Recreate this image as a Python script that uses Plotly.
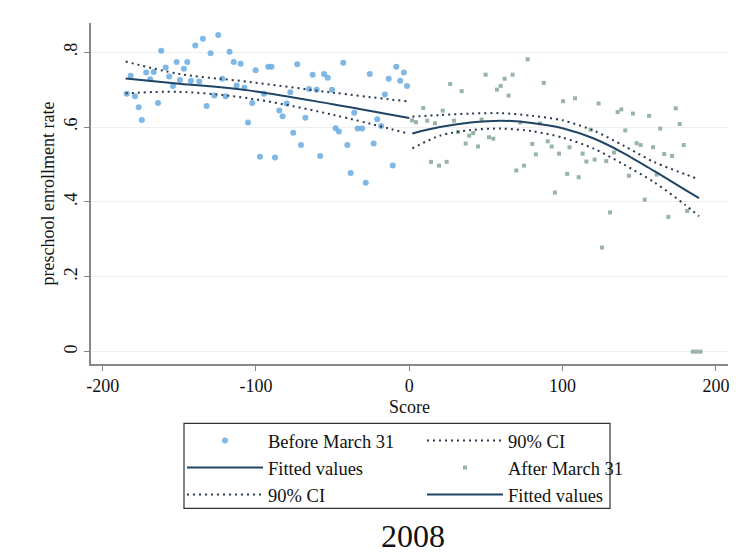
import plotly.graph_objects as go

# ---------------- data ----------------
before_x = [-184.3, -178.9, -181.7, -176.5, -174.4, -171.6, -169.0, -166.7, -163.9, -161.8,
            -158.9, -156.6, -154.1, -151.7, -149.6, -147.0, -144.8, -142.4, -139.6, -137.0,
            -134.6, -132.2, -129.6, -127.2, -124.6, -122.0, -119.8, -117.2, -114.5, -112.6,
            -110.0, -107.5, -105.2, -102.4, -100.2, -97.4, -94.8, -92.0, -89.8, -87.6,
            -84.8, -82.6, -80.0, -77.6, -75.7, -73.1, -70.6, -67.8, -65.4, -63.0,
            -60.4, -58.1, -55.6, -53.2, -50.4, -48.0, -45.9, -43.1, -40.4, -38.2,
            -35.9, -33.7, -30.7, -28.4, -25.8, -23.2, -20.9, -18.3, -15.9, -13.4,
            -10.8, -8.5, -5.9, -3.5, -1.5]
before_y = [0.689, 0.682, 0.737, 0.653, 0.619, 0.746, 0.728, 0.747, 0.664, 0.804,
            0.759, 0.735, 0.710, 0.774, 0.726, 0.756, 0.774, 0.724, 0.818, 0.722,
            0.836, 0.656, 0.797, 0.684, 0.846, 0.729, 0.682, 0.801, 0.774, 0.711,
            0.769, 0.705, 0.612, 0.664, 0.752, 0.521, 0.689, 0.761, 0.761, 0.519,
            0.644, 0.629, 0.663, 0.693, 0.585, 0.768, 0.552, 0.625, 0.702, 0.740,
            0.700, 0.523, 0.742, 0.732, 0.700, 0.597, 0.588, 0.772, 0.552, 0.477,
            0.638, 0.596, 0.596, 0.451, 0.742, 0.556, 0.621, 0.603, 0.687, 0.729,
            0.497, 0.761, 0.724, 0.746, 0.710]

after_x = [1.8, 4.4, 9.1, 11.7, 14.2, 16.8, 19.4, 21.8, 24.4, 26.7,
           29.2, 31.8, 34.2, 36.8, 39.1, 41.7, 44.8, 47.2, 49.8, 52.0,
           54.8, 57.2, 59.6, 62.2, 64.8, 67.4, 69.8, 72.4, 74.8, 77.2,
           80.2, 82.6, 85.3, 87.7, 90.3, 92.9, 95.0, 97.7, 100.3, 103.0,
           104.5, 108.1, 110.5, 113.1, 115.5, 118.3, 120.9, 123.5, 125.7, 128.5,
           130.9, 133.5, 135.9, 138.3, 140.9, 143.3, 145.9, 148.3, 150.9, 153.6,
           156.4, 159.0, 161.4, 163.7, 166.3, 169.0, 171.4, 173.8, 176.4, 179.0,
           181.3, 185.0, 187.5, 190.0]
after_y = [0.618, 0.613, 0.651, 0.617, 0.507, 0.610, 0.497, 0.644, 0.507, 0.715,
           0.617, 0.587, 0.696, 0.556, 0.577, 0.584, 0.548, 0.620, 0.740, 0.573,
           0.569, 0.700, 0.710, 0.729, 0.684, 0.740, 0.484, 0.612, 0.497, 0.781,
           0.555, 0.527, 0.610, 0.718, 0.562, 0.548, 0.425, 0.529, 0.669, 0.475,
           0.546, 0.677, 0.466, 0.529, 0.508, 0.593, 0.513, 0.663, 0.278, 0.509,
           0.372, 0.532, 0.640, 0.647, 0.591, 0.470, 0.636, 0.557, 0.552, 0.406,
           0.630, 0.546, 0.473, 0.596, 0.528, 0.360, 0.523, 0.650, 0.608, 0.552,
           0.376, 0.0, 0.0, 0.0]

fit_left_x = [-185, -150, -105, -50, 0]
fit_left_y = [0.730, 0.716, 0.698, 0.661, 0.624]
ci_left_hi = [0.775, 0.742, 0.721, 0.692, 0.668]
ci_left_lo = [0.690, 0.694, 0.677, 0.633, 0.582]

fit_right_x = [2, 20, 40, 60, 80, 100, 120, 140, 160, 180, 189]
fit_right_y = [0.583, 0.600, 0.612, 0.617, 0.611, 0.597, 0.570, 0.530, 0.482, 0.432, 0.410]
ci_right_hi = [0.628, 0.632, 0.636, 0.637, 0.630, 0.618, 0.591, 0.550, 0.506, 0.474, 0.460]
ci_right_lo = [0.543, 0.577, 0.592, 0.596, 0.589, 0.572, 0.543, 0.500, 0.452, 0.392, 0.362]

x_ticks = [-200, -100, 0, 100, 200]
x_tick_text = ["-200", "-100", "0", "100", "200"]
y_ticks = [0, 0.2, 0.4, 0.6, 0.8]
y_tick_text = ["0", ".2", ".4", ".6", ".8"]

# ---------------- styles ----------------
FONT = "Liberation Serif, Times New Roman, serif"
BLUE = "rgba(105,170,225,0.85)"
GREEN = "rgba(140,172,155,0.9)"
NAVY = "#1f4466"
DOT = "#2b3a4e"
DOTDASH = "2px,4px"

fig = go.Figure()

# legend 1 (left column)
fig.add_trace(go.Scatter(x=before_x, y=before_y, mode="markers", name="Before March 31",
                         marker=dict(symbol="circle", size=6, color=BLUE),
                         legend="legend", legendrank=1))
fig.add_trace(go.Scatter(x=fit_left_x, y=fit_left_y, mode="lines", name="Fitted values",
                         line=dict(color=NAVY, width=2, shape="spline"),
                         legend="legend", legendrank=2))
fig.add_trace(go.Scatter(x=fit_left_x, y=ci_left_lo, mode="lines", name="90% CI",
                         line=dict(color=DOT, width=2, dash=DOTDASH, shape="spline"),
                         legend="legend", legendrank=3))
# legend 2 (right column)
fig.add_trace(go.Scatter(x=fit_left_x, y=ci_left_hi, mode="lines", name="90% CI",
                         line=dict(color=DOT, width=2, dash=DOTDASH, shape="spline"),
                         legend="legend2", legendrank=1))
fig.add_trace(go.Scatter(x=after_x, y=after_y, mode="markers", name="After March 31",
                         marker=dict(symbol="square", size=4, color=GREEN),
                         legend="legend2", legendrank=2))
fig.add_trace(go.Scatter(x=fit_right_x, y=fit_right_y, mode="lines", name="Fitted values",
                         line=dict(color=NAVY, width=2, shape="spline", smoothing=0.8),
                         legend="legend2", legendrank=3))
fig.add_trace(go.Scatter(x=fit_right_x, y=ci_right_hi, mode="lines", name="90% CI",
                         line=dict(color=DOT, width=2, dash=DOTDASH, shape="spline", smoothing=0.8),
                         showlegend=False))
fig.add_trace(go.Scatter(x=fit_right_x, y=ci_right_lo, mode="lines", name="90% CI",
                         line=dict(color=DOT, width=2, dash=DOTDASH, shape="spline", smoothing=0.8),
                         showlegend=False))

fig.add_vline(x=0, line=dict(color="black", width=2), layer="above")

legend_common = dict(orientation="v", xanchor="left", yanchor="top",
                     font=dict(family=FONT, size=18.5, color="#111"),
                     bgcolor="rgba(0,0,0,0)", borderwidth=0,
                     itemwidth=76, tracegroupgap=0, itemclick=False)

fig.update_layout(
    width=736, height=553,
    margin=dict(l=91, r=8, t=23, b=189),
    paper_bgcolor="white", plot_bgcolor="white",
    font=dict(family=FONT, size=18, color="#111"),
    showlegend=True,
    legend=dict(x=(182 - 91) / 637, y=-0.17, **legend_common),
    legend2=dict(x=(422 - 91) / 637, y=-0.17, **legend_common),
    xaxis=dict(range=[-207.6, 207.9], tickvals=x_ticks, ticktext=x_tick_text,
               showgrid=False, zeroline=False,
               showline=True, linecolor="#888", linewidth=1.5, ticks="outside",
               ticklen=5, tickcolor="#888",
               title=dict(text="Score", font=dict(size=18), standoff=5)),
    yaxis=dict(range=[-0.033, 0.878], tickvals=y_ticks, ticktext=y_tick_text,
               tickangle=-90, showgrid=True, gridcolor="#efefef", gridwidth=1,
               zeroline=False, showline=True, linecolor="#888", linewidth=1.5,
               ticks="outside", ticklen=5, tickcolor="#888",
               title=dict(text="preschool enrollment rate", font=dict(size=18), standoff=2)),
    shapes=[dict(type="rect", xref="paper", yref="paper",
                 x0=(184 - 91) / 637, x1=(610 - 91) / 637,
                 y0=(364.5 - 509) / 341.5, y1=(364.5 - 424) / 341.5,
                 line=dict(color="#333", width=1.2), fillcolor="rgba(0,0,0,0)")],
    annotations=[dict(text="2008", xref="paper", yref="paper",
                      x=(413 - 91) / 637, y=(364.5 - 537) / 341.5,
                      xanchor="center", yanchor="middle", showarrow=False,
                      font=dict(family=FONT, size=32, color="#111"))],
)

fig.write_html("out.html")
